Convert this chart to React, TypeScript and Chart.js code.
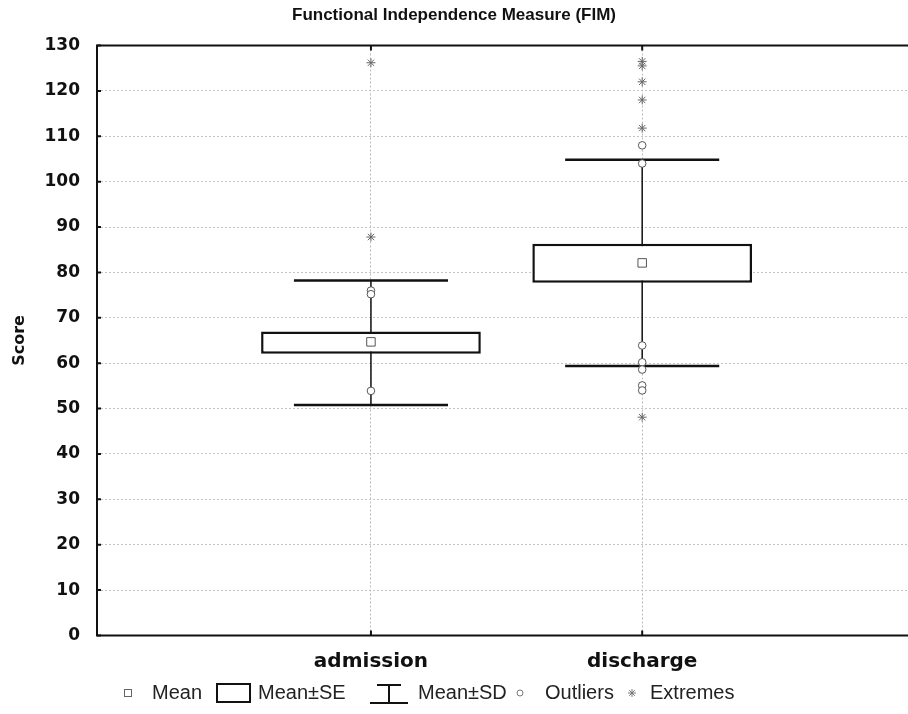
import React, { useEffect, useRef } from 'react';
import { Chart, registerables } from 'chart.js';

Chart.register(...registerables);

const categories = ['admission', 'discharge'];
const catX = [1, 2];
const means = [64.7, 82.1];
const seLow = [62.1, 77.7];
const seHigh = [67.0, 86.3];
const sdLow = [50.8, 59.4];
const sdHigh = [78.2, 104.8];
const admissionOutliers = [76.0, 75.2, 53.9];
const dischargeOutliers = [108.0, 104.0, 63.9, 60.2, 58.6, 55.1, 54.0];
const admissionExtremes = [87.8, 126.2];
const dischargeExtremes = [126.5, 125.5, 122.0, 118.0, 111.8, 48.1];
const yTicks = [0, 10, 20, 30, 40, 50, 60, 70, 80, 90, 100, 110, 120, 130];
const legendLabels = ['Mean', 'Mean±SE', 'Mean±SD', 'Outliers', 'Extremes'];

const FONT = '"DejaVu Sans", "Liberation Sans", Arial, sans-serif';
const ARIAL = '"Liberation Sans", Arial, sans-serif';

const boxPlugin = {
  id: 'boxWhiskers',
  beforeDatasetsDraw(chart: any) {
    const { ctx, scales } = chart;
    const x = scales.x;
    const y = scales.y;
    ctx.save();
    ctx.strokeStyle = '#111';
    for (let i = 0; i < catX.length; i++) {
      const px = x.getPixelForValue(catX[i]);
      const top = y.getPixelForValue(sdHigh[i]);
      const bot = y.getPixelForValue(sdLow[i]);
      const hw = x.getPixelForValue(catX[i] + 0.284) - px;
      ctx.lineWidth = 1.5;
      ctx.beginPath();
      ctx.moveTo(px, top);
      ctx.lineTo(px, bot);
      ctx.stroke();
      ctx.lineWidth = 2.5;
      ctx.beginPath();
      ctx.moveTo(px - hw, top);
      ctx.lineTo(px + hw, top);
      ctx.moveTo(px - hw, bot);
      ctx.lineTo(px + hw, bot);
      ctx.stroke();
    }
    ctx.restore();
  },
  afterDraw(chart: any) {
    const { ctx, chartArea, scales } = chart;
    const { left, right, top, bottom } = chartArea;
    ctx.save();
    // frame
    ctx.strokeStyle = '#111';
    ctx.lineWidth = 2;
    ctx.beginPath();
    ctx.moveTo(right + 5, top);
    ctx.lineTo(left, top);
    ctx.lineTo(left, bottom);
    ctx.lineTo(right + 5, bottom);
    ctx.stroke();
    // inner ticks
    ctx.lineWidth = 2;
    ctx.beginPath();
    for (const v of yTicks) {
      const py = scales.y.getPixelForValue(v);
      ctx.moveTo(left, py);
      ctx.lineTo(left + 4, py);
    }
    for (const v of catX) {
      const px = scales.x.getPixelForValue(v);
      ctx.moveTo(px, bottom);
      ctx.lineTo(px, bottom - 5);
      ctx.moveTo(px, top);
      ctx.lineTo(px, top + 5);
    }
    ctx.stroke();

    // legend
    const ly = 693;
    ctx.font = '20px ' + ARIAL;
    ctx.fillStyle = '#222';
    ctx.textBaseline = 'middle';
    ctx.textAlign = 'left';
    // mean square
    ctx.strokeStyle = '#666';
    ctx.lineWidth = 1;
    ctx.strokeRect(124.5, ly - 3.5, 7, 7);
    ctx.fillText(legendLabels[0], 152, ly);
    // SE box
    ctx.strokeStyle = '#111';
    ctx.lineWidth = 2;
    ctx.strokeRect(217, 684, 33, 18);
    ctx.fillText(legendLabels[1], 258, ly);
    // SD I-beam
    ctx.beginPath();
    ctx.moveTo(389, 685);
    ctx.lineTo(389, 703);
    ctx.moveTo(377, 685);
    ctx.lineTo(401, 685);
    ctx.moveTo(370, 703);
    ctx.lineTo(408, 703);
    ctx.stroke();
    ctx.fillText(legendLabels[2], 418, ly);
    // outlier circle
    ctx.strokeStyle = '#777';
    ctx.lineWidth = 1;
    ctx.beginPath();
    ctx.arc(520, ly, 3, 0, Math.PI * 2);
    ctx.stroke();
    ctx.fillText(legendLabels[3], 545, ly);
    // extremes star
    ctx.beginPath();
    const r = 4;
    for (let k = 0; k < 4; k++) {
      const a = (k * Math.PI) / 4;
      ctx.moveTo(632 - r * Math.cos(a), ly - r * Math.sin(a));
      ctx.lineTo(632 + r * Math.cos(a), ly + r * Math.sin(a));
    }
    ctx.stroke();
    ctx.fillText(legendLabels[4], 650, ly);
    ctx.restore();
  },
};

export default function App() {
  const canvasRef = useRef<HTMLCanvasElement | null>(null);

  useEffect(() => {
    const canvas = canvasRef.current;
    if (!canvas) return;

    const outlierPoints = [
      ...admissionOutliers.map((v) => ({ x: catX[0], y: v })),
      ...dischargeOutliers.map((v) => ({ x: catX[1], y: v })),
    ];
    const extremePoints = [
      ...admissionExtremes.map((v) => ({ x: catX[0], y: v })),
      ...dischargeExtremes.map((v) => ({ x: catX[1], y: v })),
    ];

    const chart = new Chart(canvas, {
      type: 'scatter',
      data: {
        datasets: [
          {
            label: 'Mean',
            data: catX.map((x, i) => ({ x, y: means[i] })),
            pointStyle: 'rect',
            pointRadius: 6,
            borderColor: '#555',
            backgroundColor: '#fff',
            borderWidth: 1,
          } as any,
          {
            label: 'Outliers',
            data: outlierPoints,
            pointStyle: 'circle',
            pointRadius: 3.8,
            borderColor: '#555',
            backgroundColor: '#fff',
            borderWidth: 1,
          },
          {
            label: 'Extremes',
            data: extremePoints,
            pointStyle: 'star',
            pointRadius: 4.5,
            borderColor: '#666',
            backgroundColor: '#666',
            borderWidth: 1,
          },
          {
            type: 'bar',
            label: 'Mean±SE',
            data: catX.map((x, i) => ({ x, y: [seLow[i], seHigh[i]] })),
            backgroundColor: '#fff',
            borderColor: '#111',
            borderWidth: 2.5,
            borderSkipped: false,
            barPercentage: 1,
            categoryPercentage: 0.81,
          } as any,
        ],
      },
      options: {
        animation: false,
        responsive: false,
        devicePixelRatio: 1,
        layout: { padding: 0, autoPadding: false },
        plugins: {
          legend: { display: false },
          tooltip: { enabled: false },
          title: {
            display: true,
            text: 'Functional Independence Measure (FIM)',
            color: '#111',
            font: { family: ARIAL, size: 17, weight: 'bold' },
            padding: { top: 5, bottom: 20.1 },
          },
        },
        scales: {
          x: {
            type: 'linear',
            min: -0.01,
            max: 2.98,
            offset: false,
            afterFit: (s: any) => {
              s.height = 78.5;
            },
            afterBuildTicks: (s: any) => {
              s.ticks = catX.map((v) => ({ value: v }));
            },
            ticks: {
              callback: (v: any) => {
                const idx = catX.indexOf(Number(v));
                return idx >= 0 ? categories[idx] : '';
              },
              color: '#111',
              font: { family: FONT, size: 20, weight: 'bold' },
              padding: 14,
              maxRotation: 0,
              autoSkip: false,
            },
            grid: {
              color: '#bdbdbd',
              lineWidth: 1,
              drawTicks: false,
              offset: false,
            },
            border: { display: false, dash: [2, 2] },
          },
          y: {
            type: 'linear',
            min: 0,
            max: 130,
            afterFit: (s: any) => {
              s.width = 97;
            },
            afterBuildTicks: (s: any) => {
              s.ticks = yTicks.map((v) => ({ value: v }));
            },
            ticks: {
              color: '#111',
              font: { family: FONT, size: 17, weight: 'bold' },
              padding: 17,
            },
            grid: {
              color: '#c4c4c4',
              lineWidth: 1,
              drawTicks: false,
            },
            border: { display: false, dash: [2, 2] },
            title: {
              display: true,
              text: 'Score',
              color: '#111',
              font: { family: FONT, size: 16, weight: 'bold' },
              padding: { top: 10, bottom: 0 },
            },
          },
        },
      },
      plugins: [boxPlugin],
    });

    return () => chart.destroy();
  }, []);

  return (
    <div style={{ position: 'fixed', left: 0, top: 0, width: 908, height: 714, background: '#fff' }}>
      <canvas ref={canvasRef} width={908} height={714} style={{ display: 'block' }} />
    </div>
  );
}
